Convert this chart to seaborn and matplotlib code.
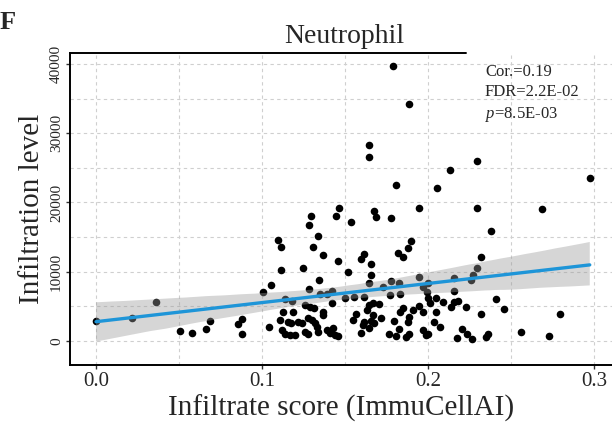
import numpy as np
import pandas as pd
import matplotlib
matplotlib.use("Agg")
import matplotlib.pyplot as plt
import seaborn as sns

# ---- data ----
infiltrate_score = [
    0.0, 0.0219, 0.0359, 0.0506, 0.058, 0.0663, 0.0687, 0.0857, 0.0877, 0.0877,
    0.1787, 0.1888, 0.1647, 0.1647, 0.2297, 0.2135, 0.1805, 0.2056, 0.2974,
    0.1464, 0.1295, 0.1446, 0.1285, 0.1335, 0.1094, 0.1114, 0.1305, 0.1367, 0.1456,
    0.1245, 0.1114, 0.1345, 0.1054, 0.1285, 0.1008, 0.1424, 0.1349, 0.1390, 0.1139,
    0.1183, 0.1424, 0.1259, 0.1289, 0.1315, 0.1189, 0.1128, 0.1369, 0.1369, 0.1108,
    0.1159, 0.1175, 0.1219, 0.1239, 0.1279, 0.1299, 0.1319, 0.1044, 0.1119, 0.1139,
    0.1169, 0.1199, 0.1259, 0.1279, 0.1329, 0.1339, 0.139, 0.141, 0.143, 0.144, 0.1456,
    0.1946, 0.1677, 0.1687, 0.1775, 0.1536, 0.1896, 0.1877, 0.1817, 0.1847, 0.1616,
    0.1596, 0.1657, 0.1516, 0.1657, 0.1946, 0.1777, 0.1827, 0.1646, 0.1727, 0.1968,
    0.1992, 0.1771, 0.1831, 0.1556, 0.1616, 0.15, 0.1667, 0.1707, 0.1646, 0.1631,
    0.1847, 0.1831, 0.1948, 0.1968, 0.1908, 0.1566, 0.1546, 0.1667, 0.1657, 0.1677,
    0.1717, 0.1616, 0.1607, 0.1797, 0.1888, 0.1877, 0.1646, 0.1596, 0.1827, 0.1767,
    0.1807, 0.1867, 0.1888, 0.1968, 0.1988,
    0.2297, 0.2378, 0.2317, 0.2297, 0.2269, 0.2259, 0.2159, 0.1998, 0.2159, 0.2048,
    0.2092, 0.1998, 0.2012, 0.2159, 0.2183, 0.2139, 0.2227, 0.2408, 0.2458, 0.2048,
    0.2317, 0.2038, 0.2072, 0.1998, 0.2203, 0.2233, 0.2267, 0.2177, 0.2348, 0.2363,
    0.2689, 0.2795, 0.2558, 0.2729,
]
infiltration_level = [
    2930, 3370, 5630, 1400, 1160, 1730, 2890, 2450, 3180, 970,
    39700, 34200, 28260, 26620, 26000, 24690, 22530, 22050, 23540,
    19250, 18100, 18050, 16750, 15210, 14580, 13570, 13530, 12470, 11510,
    10540, 10210, 8760, 8040, 7550, 7030, 7180, 6790, 6790, 6060,
    5780, 5490, 5200, 4950, 4720, 4230, 4140, 4230, 3750, 3030,
    2790, 2560, 2790, 2560, 3270, 3030, 2560, 1980, 1590, 970,
    870, 870, 1340, 970, 2070, 1340, 1590, 1110, 1830, 870, 720,
    19250, 18770, 17950, 17810, 17140, 14440, 13390, 12660, 12130, 12560,
    11840, 11120, 10010, 9530, 9200, 8710, 8330, 8330, 7840, 7840,
    7120, 6640, 6830, 6400, 6400, 6160, 5440, 5300, 5200, 4480,
    4810, 4230, 5050, 4230, 4480, 3900, 3030, 3750, 2890, 2560,
    3270, 2790, 2310, 2890, 3510, 2790, 1920, 1110, 1730, 970,
    770, 620, 970, 1590, 870,
    19250, 15930, 12170, 10590, 9530, 8810, 9050, 8330, 7220, 6160,
    5590, 6160, 5440, 5680, 5780, 4960, 4910, 6010, 4580, 4140,
    3940, 2700, 2070, 1060, 1730, 970, 290, 480, 620, 970,
    19010, 3900, 1340, 720,
]
x_ticks = [0.0, 0.1, 0.2, 0.3]
x_tick_labels = ["0.0", "0.1", "0.2", "0.3"]
y_ticks = [0, 10000, 20000, 30000, 40000]
y_tick_labels = ["0", "10000", "20000", "30000", "40000"]
title = "Neutrophil"
stats_lines = ["Cor.=0.19", "FDR=2.2E-02", r"$\mathit{p}$=8.5E-03"]

df = pd.DataFrame({"score": infiltrate_score, "level": infiltration_level})

# ---- style ----
sns.set_theme(style="white")
plt.rcParams["font.family"] = ["Liberation Serif", "DejaVu Serif"]
plt.rcParams["mathtext.fontset"] = "custom"
plt.rcParams["mathtext.rm"] = "Liberation Serif"
plt.rcParams["mathtext.it"] = "Liberation Serif:italic"

fig = plt.figure(figsize=(6.12, 4.24), dpi=100)
ax = fig.add_axes([0.1144, 0.1392, 1.0 - 0.1144, 0.7365])

sns.scatterplot(data=df, x="score", y="level", ax=ax, color="black",
                s=30, linewidth=0, zorder=2)
n_before = len(ax.collections)
sns.regplot(data=df, x="score", y="level", ax=ax, scatter=False,
            color="#999999", seed=3,
            line_kws={"color": "#1e95d8", "linewidth": 2.4, "zorder": 4})
for coll in ax.collections[n_before:]:
    coll.set_facecolor("#999999")
    coll.set_edgecolor("none")
    coll.set_alpha(0.4)
    coll.set_zorder(3)

ax.set_xlim(-0.01566, 0.3108)
ax.set_ylim(-3470, 41630)

ax.set_xticks(x_ticks)
ax.set_xticklabels(x_tick_labels, fontsize=15)
ax.set_yticks(y_ticks)
ax.set_yticklabels(y_tick_labels, fontsize=11, rotation=90, va="center")
ax.set_xticks(np.arange(0.05, 0.31, 0.1), minor=True)
ax.set_yticks(np.arange(5000, 40001, 10000), minor=True)

ax.grid(True, which="both", linestyle=(0, (3, 3)), color="#cfcfcf", linewidth=0.8)
ax.set_axisbelow(True)

ax.tick_params(axis="both", which="major", length=3, width=1, color="#333333",
               bottom=True, left=True, pad=2)
ax.tick_params(axis="both", which="minor", length=0)

for side in ["top", "right"]:
    ax.spines[side].set_visible(False)
for side in ["left", "bottom"]:
    ax.spines[side].set_color("black")
    ax.spines[side].set_linewidth(1.4)
ax.plot([0, 0.731], [1, 1], transform=ax.transAxes, color="black",
        linewidth=1.4, clip_on=False, zorder=5)

ax.set_xlabel("Infiltrate score (ImmuCellAI)", fontsize=21, labelpad=3)
ax.set_ylabel("Infiltration level", fontsize=21, labelpad=4)

fig.text(344 / 612, 1 - 43 / 424, title, fontsize=20, ha="center", va="baseline")

for i, line in enumerate(stats_lines):
    ax.text(0.7657, 0.965 - i * 0.066, line, transform=ax.transAxes,
            fontsize=12, ha="left", va="top")

fig.text(0.0, 1 - 29 / 424, "F", fontsize=19, fontweight="bold",
         ha="left", va="baseline")

fig.savefig("out.png", dpi=100)
